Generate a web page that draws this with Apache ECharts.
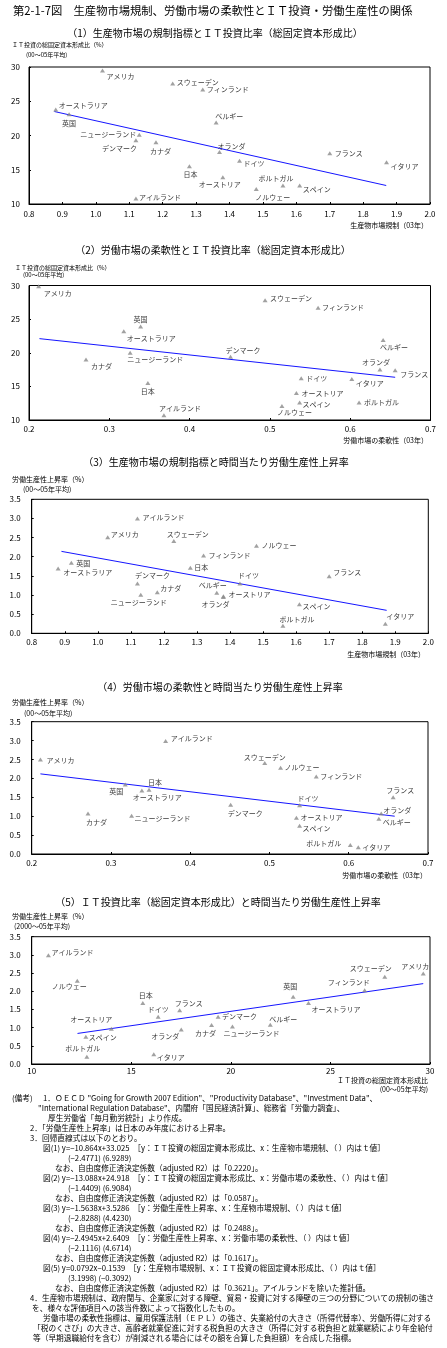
<!DOCTYPE html>
<html>
<head>
<meta charset="utf-8">
<script src="https://cdn.jsdelivr.net/npm/echarts@6/dist/echarts.min.js"></script>
<style>
  html, body { margin: 0; padding: 0; background: #fff; }
  #main { width: 447px; height: 1348px; }
</style>
</head>
<body>
<div id="main"></div>
<script>
// (1) product market regulation vs IT investment ratio
const names1 = ['アメリカ','スウェーデン','フィンランド','オーストラリア','英国','ベルギー','ニュージーランド','デンマーク','カナダ','オランダ','フランス','イタリア','ドイツ','日本','オーストリア','ポルトガル','スペイン','ノルウェー','アイルランド'];
const pmr1 = [1.02,1.23,1.32,0.88,0.92,1.36,1.13,1.12,1.18,1.37,1.70,1.87,1.43,1.28,1.38,1.56,1.61,1.48,1.12];
const it1 = [29.5,27.6,26.7,23.8,23.1,21.9,20.1,19.3,19.0,17.6,17.4,16.1,16.3,15.5,13.9,12.7,12.7,12.2,10.8];
const trendX1 = [0.876, 1.869];
const trendY1 = [23.5, 12.7];

// (2) labour market flexibility vs IT investment ratio
const names2 = ['アメリカ','スウェーデン','フィンランド','英国','オーストラリア','ベルギー','カナダ','ニュージーランド','デンマーク','日本','アイルランド','ドイツ','オーストリア','スペイン','ノルウェー','オランダ','フランス','イタリア','ポルトガル'];
const lmf2 = [0.212,0.494,0.560,0.339,0.318,0.641,0.271,0.326,0.451,0.348,0.368,0.539,0.533,0.537,0.515,0.637,0.656,0.602,0.611];
const it2 = [29.9,27.8,26.7,23.9,23.2,21.9,19.0,20.0,19.4,15.5,10.7,16.2,14.0,12.6,12.1,17.5,17.4,16.1,12.6];
const trendX2 = [0.213, 0.656];
const trendY2 = [22.1, 16.35];

// (3) product market regulation vs productivity growth
const names3 = ['アイルランド','アメリカ','スウェーデン','ノルウェー','フィンランド','英国','日本','オーストラリア','フランス','デンマーク','ドイツ','カナダ','ベルギー','ニュージーランド','オーストリア','オランダ','スペイン','ポルトガル','イタリア'];
const pmr3 = [1.12,1.03,1.23,1.48,1.32,0.92,1.28,0.88,1.70,1.12,1.43,1.18,1.36,1.13,1.38,1.38,1.61,1.56,1.87];
const growth3 = [3.00,2.51,2.41,2.29,2.03,1.84,1.71,1.69,1.49,1.30,1.30,1.07,1.06,1.01,0.97,0.95,0.76,0.20,0.25];
const trendX3 = [0.89, 1.874];
const trendY3 = [2.14, 0.60];

// (4) labour market flexibility vs productivity growth
const names4 = ['アメリカ','アイルランド','スウェーデン','ノルウェー','フィンランド','英国','日本','オーストラリア','フランス','ドイツ','デンマーク','カナダ','オランダ','ニュージーランド','オーストリア','ベルギー','スペイン','ポルトガル','イタリア'];
const lmf4 = [0.211,0.369,0.494,0.514,0.559,0.318,0.348,0.339,0.656,0.538,0.451,0.271,0.641,0.326,0.534,0.638,0.538,0.602,0.612];
const growth4 = [2.50,2.99,2.41,2.28,2.05,1.84,1.70,1.68,1.50,1.29,1.30,1.07,1.07,1.01,0.96,0.93,0.75,0.24,0.18];
const trendX4 = [0.211, 0.658];
const trendY4 = [2.12, 1.00];

// (5) IT investment ratio vs productivity growth
const names5 = ['アイルランド','ノルウェー','日本','フランス','ドイツ','オーストリア','スペイン','ポルトガル','イタリア','オランダ','デンマーク','カナダ','ニュージーランド','ベルギー','英国','オーストラリア','フィンランド','スウェーデン','アメリカ'];
const it5 = [10.84,12.29,15.58,17.43,16.35,14.0,12.72,12.77,16.13,17.51,19.36,19.03,20.08,21.98,23.13,23.9,26.72,27.73,29.66];
const growth5 = [2.99,2.29,1.68,1.48,1.30,0.97,0.75,0.20,0.27,0.95,1.30,1.07,1.03,1.08,1.85,1.68,2.03,2.40,2.49];
const trendX5 = [12.3, 29.66];
const trendY5 = [0.84, 2.21];

const noteLines = [
  '1．ＯＥＣＤ "Going for Growth 2007 Edition"、"Productivity Database"、"Investment Data"、',
  '"International Regulation Database"、内閣府「国民経済計算」、総務省「労働力調査」、',
  '厚生労働省「毎月勤労統計」より作成。',
  '2．「労働生産性上昇率」は日本のみ年度における上昇率。',
  '3．回帰直線式は以下のとおり。',
  '図(1) y=−10.864x+33.025　［y：ＩＴ投資の総固定資本形成比、x：生産物市場規制、（ ）内はｔ値］',
  '(−2.4771) (6.9289)',
  'なお、自由度修正済決定係数（adjusted R2）は「0.2220」。',
  '図(2) y=−13.088x+24.918　［y：ＩＴ投資の総固定資本形成比、x：労働市場の柔軟性、（ ）内はｔ値］',
  '(−1.4409) (6.9084)',
  'なお、自由度修正済決定係数（adjusted R2）は「0.0587」。',
  '図(3) y=−1.5638x+3.5286　［y：労働生産性上昇率、x：生産物市場規制、（ ）内はｔ値］',
  '(−2.8288) (4.4230)',
  'なお、自由度修正済決定係数（adjusted R2）は「0.2488」。',
  '図(4) y=−2.4945x+2.6409　［y：労働生産性上昇率、x：労働市場の柔軟性、（ ）内はｔ値］',
  '(−2.1116) (4.6714)',
  'なお、自由度修正済決定係数（adjusted R2）は「0.1617」。',
  '図(5) y=0.0792x−0.1539　［y：生産物市場規制、x：ＩＴ投資の総固定資本形成比、（ ）内はｔ値］',
  '(3.1998) (−0.3092)',
  'なお、自由度修正済決定係数（adjusted R2）は「0.3621」。アイルランドを除いた推計値。',
  '4．生産物市場規制は、政府関与、企業家に対する障壁、貿易・投資に対する障壁の三つの分野についての規制の強さ',
  'を、様々な評価項目への該当件数によって指数化したもの。',
  '労働市場の柔軟性指標は、雇用保護法制（ＥＰＬ）の強さ、失業給付の大きさ（所得代替率）、労働所得に対する',
  '「税のくさび」の大きさ、高齢者就業促進に対する税負担の大きさ（所得に対する税負担と就業継続により年金給付',
  '等（早期退職給付を含む）が削減される場合にはその額を合算した負担額）を合成した指標。'
];
const noteIndent = [43,38,48,30,30,43,68,55,43,68,55,43,68,55,43,68,55,43,68,55,30,32,43,33,33];

// label placement: [dx, dy, align] from the triangle
const place1 = {
  'アメリカ':[4,6,'left'], 'スウェーデン':[4,-1,'left'], 'フィンランド':[4,0,'left'], 'オーストラリア':[3,-4,'left'],
  '英国':[0,9,'center'], 'ベルギー':[-1,-6,'left'], 'ニュージーランド':[-3,0,'right'], 'デンマーク':[1,8,'right'],
  'カナダ':[-6,9,'left'], 'オランダ':[-2,-6,'left'], 'フランス':[5,0,'left'], 'イタリア':[4,4,'left'],
  'ドイツ':[4,2,'left'], '日本':[1,8,'center'], 'オーストリア':[-3,7,'center'], 'ポルトガル':[-7,-7,'center'],
  'スペイン':[3,4,'left'], 'ノルウェー':[-1,8,'left'], 'アイルランド':[3,-1,'left']
};
const place2 = {
  'アメリカ':[5,7,'left'], 'スウェーデン':[5,-2,'left'], 'フィンランド':[4,0,'left'], '英国':[0,-7,'center'],
  'オーストラリア':[3,7,'left'], 'ベルギー':[-3,7,'left'], 'カナダ':[5,7,'left'], 'ニュージーランド':[-3,7,'left'],
  'デンマーク':[-5,-6,'left'], '日本':[0,8,'center'], 'アイルランド':[-5,-7,'left'], 'ドイツ':[5,0,'left'],
  'オーストリア':[5,0,'left'], 'スペイン':[3,2,'left'], 'ノルウェー':[-5,6,'left'], 'オランダ':[-4,-7,'center'],
  'フランス':[5,4,'left'], 'イタリア':[4,4,'left'], 'ポルトガル':[5,0,'left']
};
const place3 = {
  'アイルランド':[5,-1,'left'], 'アメリカ':[3,-3,'left'], 'スウェーデン':[14,-7,'center'], 'ノルウェー':[5,0,'left'],
  'フィンランド':[5,0,'left'], '英国':[5,0,'left'], '日本':[4,0,'left'], 'オーストラリア':[5,4,'left'],
  'フランス':[4,-4,'left'], 'デンマーク':[15,-8,'center'], 'ドイツ':[-2,-8,'left'], 'カナダ':[3,-4,'left'],
  'ベルギー':[-4,-7,'center'], 'ニュージーランド':[-2,8,'center'], 'オーストリア':[5,-2,'left'], 'オランダ':[-8,7,'center'],
  'スペイン':[3,2,'left'], 'ポルトガル':[14,-6,'center'], 'イタリア':[1,-7,'left']
};
const place4 = {
  'アメリカ':[6,1,'left'], 'アイルランド':[5,-3,'left'], 'スウェーデン':[0,-6,'center'], 'ノルウェー':[4,0,'left'],
  'フィンランド':[4,0,'left'], '英国':[-2,7,'right'], '日本':[6,-7,'center'], 'オーストラリア':[-9,7,'left'],
  'フランス':[7,-7,'center'], 'ドイツ':[-2,-7,'left'], 'デンマーク':[-3,8,'left'], 'カナダ':[-2,9,'left'],
  'オランダ':[2,-3,'left'], 'ニュージーランド':[3,3,'left'], 'オーストリア':[4,0,'left'], 'ベルギー':[4,3,'left'],
  'スペイン':[3,3,'left'], 'ポルトガル':[-9,-2,'right'], 'イタリア':[4,0,'left']
};
const place5 = {
  'アイルランド':[3,-3,'left'], 'ノルウェー':[-8,6,'center'], '日本':[3,-8,'center'], 'フランス':[9,-7,'center'],
  'ドイツ':[0,-7,'center'], 'オーストリア':[-20,-9,'center'], 'スペイン':[3,1,'left'], 'ポルトガル':[-4,-8,'center'],
  'イタリア':[3,3,'left'], 'オランダ':[-16,7,'center'], 'デンマーク':[4,0,'left'], 'カナダ':[-6,8,'center'],
  'ニュージーランド':[-9,7,'left'], 'ベルギー':[-1,-5,'left'], '英国':[-3,-10,'center'], 'オーストラリア':[3,6,'left'],
  'フィンランド':[-16,-8,'center'], 'スウェーデン':[-14,-8,'center'], 'アメリカ':[-8,-7,'center']
};

const JP = '"Noto Sans CJK JP", "Noto Sans", sans-serif';

const panels = [
  { box:[29, 67, 401, 137], x:[0.8, 2.0, 0.1, 1], y:[10, 30, 5, 0], yMargin:9, xMargin:6,
    names:names1, xs:pmr1, ys:it1, tx:trendX1, ty:trendY1, place:place1 },
  { box:[29, 285.5, 401.5, 134.5], x:[0.2, 0.7, 0.1, 1], y:[10, 30, 5, 0], yMargin:9, xMargin:5,
    names:names2, xs:lmf2, ys:it2, tx:trendX2, ty:trendY2, place:place2 },
  { box:[31.7, 499.3, 396.6, 134], x:[0.8, 2.0, 0.1, 1], y:[0, 3.5, 0.5, 1], yMargin:11, xMargin:5,
    names:names3, xs:pmr3, ys:growth3, tx:trendX3, ty:trendY3, place:place3 },
  { box:[31.7, 721.7, 396.3, 132.3], x:[0.2, 0.7, 0.1, 1], y:[0, 3.5, 0.5, 1], yMargin:11, xMargin:5,
    names:names4, xs:lmf4, ys:growth4, tx:trendX4, ty:trendY4, place:place4 },
  { box:[31.7, 936.7, 398.3, 127.3], x:[10, 30, 5, 0], y:[0, 3.5, 0.5, 1], yMargin:11, xMargin:3,
    names:names5, xs:it5, ys:growth5, tx:trendX5, ty:trendY5, place:place5 }
];

const grids = [], xAxes = [], yAxes = [], series = [];

panels.forEach(function (p, i) {
  grids.push({
    left: p.box[0], top: p.box[1], width: p.box[2], height: p.box[3],
    show: true, borderColor: '#000', borderWidth: 1, backgroundColor: '#fff'
  });
  const axisCommon = {
    type: 'value',
    gridIndex: i,
    axisLine: { onZero: false, lineStyle: { color: '#000', width: 1 } },
    axisTick: { inside: true, length: 2, lineStyle: { color: '#000' } },
    splitLine: { show: false }
  };
  xAxes.push(Object.assign({}, axisCommon, {
    min: p.x[0], max: p.x[1], interval: p.x[2],
    axisLabel: { margin: p.xMargin, color: '#000', fontSize: 8, fontFamily: JP,
      formatter: v => v.toFixed(p.x[3]) }
  }));
  yAxes.push(Object.assign({}, axisCommon, {
    min: p.y[0], max: p.y[1], interval: p.y[2],
    axisLabel: { margin: p.yMargin, color: '#000', fontSize: 8, fontFamily: JP,
      formatter: v => v.toFixed(p.y[3]) }
  }));
  series.push({
    type: 'line', xAxisIndex: i, yAxisIndex: i,
    data: p.tx.map((x, k) => [x, p.ty[k]]),
    symbol: 'none', silent: true, z: 2,
    lineStyle: { color: '#1515ff', width: 1 }
  });
  series.push({
    type: 'scatter', xAxisIndex: i, yAxisIndex: i, silent: true, z: 3,
    symbol: 'triangle', symbolSize: [5, 4],
    itemStyle: { color: '#8a8a8a' },
    label: { show: true, formatter: '{b}', color: '#000', fontSize: 7, fontFamily: JP },
    data: p.names.map(function (n, k) {
      const pl = p.place[n];
      return {
        name: n,
        value: [p.xs[k], p.ys[k]],
        label: { position: 'inside', offset: [pl[0], pl[1]], align: pl[2], verticalAlign: 'middle', color: '#000' }
      };
    })
  });
});

function txt(x, y, text, size, align) {
  return {
    type: 'text', x: x, y: y, silent: true,
    style: { text: text, fontSize: size, fontFamily: JP, fill: '#000',
      align: align || 'left', textAlign: align || 'left',
      verticalAlign: 'middle', textVerticalAlign: 'middle' }
  };
}

const graphics = [
  txt(13, 11, '第2-1-7図　生産物市場規制、労働市場の柔軟性とＩＴ投資・労働生産性の関係', 11.3),
  txt(215, 33, '（1）生産物市場の規制指標とＩＴ投資比率（総固定資本形成比）', 10, 'center'),
  txt(12, 45, 'ＩＴ投資の総固定資本形成比（%）', 6),
  txt(26, 55, '(00～05年平均)', 6),
  txt(428, 225, '生産物市場規制（03年）', 7, 'right'),

  txt(213, 250, '（2）労働市場の柔軟性とＩＴ投資比率（総固定資本形成比）', 10, 'center'),
  txt(15, 268, 'ＩＴ投資の総固定資本形成比（%）', 6),
  txt(23, 275, '(00～05年平均)', 6),
  txt(428, 440, '労働市場の柔軟性（03年）', 7, 'right'),

  txt(216, 462, '（3）生産物市場の規制指標と時間当たり労働生産性上昇率', 10, 'center'),
  txt(12, 479, '労働生産性上昇率（%）', 7),
  txt(23, 489, '(00～05年平均)', 7),
  txt(425, 654, '生産物市場規制（03年）', 7, 'right'),

  txt(220, 687, '（4）労働市場の柔軟性と時間当たり労働生産性上昇率', 10, 'center'),
  txt(12, 702, '労働生産性上昇率（%）', 7),
  txt(24, 713, '(00～05年平均)', 7),
  txt(427, 875, '労働市場の柔軟性（03年）', 7, 'right'),

  txt(218, 902, '（5）ＩＴ投資比率（総固定資本形成比）と時間当たり労働生産性上昇率', 10, 'center'),
  txt(12, 916, '労働生産性上昇率（%）', 7),
  txt(14, 926, '(2000～05年平均)', 7),
  txt(428, 1080, 'ＩＴ投資の総固定資本形成比', 7, 'right'),
  txt(428, 1089, '(00～05年平均)', 7, 'right'),

  txt(12, 1098, '(備考)', 7.7)
];
noteLines.forEach(function (line, i) {
  graphics.push(txt(noteIndent[i], 1098 + i * 10, line, 7.7));
});

const chart = echarts.init(document.getElementById('main'), null, { renderer: 'canvas' });
chart.setOption({
  animation: false,
  backgroundColor: '#fff',
  grid: grids,
  xAxis: xAxes,
  yAxis: yAxes,
  series: series,
  graphic: graphics
});
</script>
</body>
</html>
